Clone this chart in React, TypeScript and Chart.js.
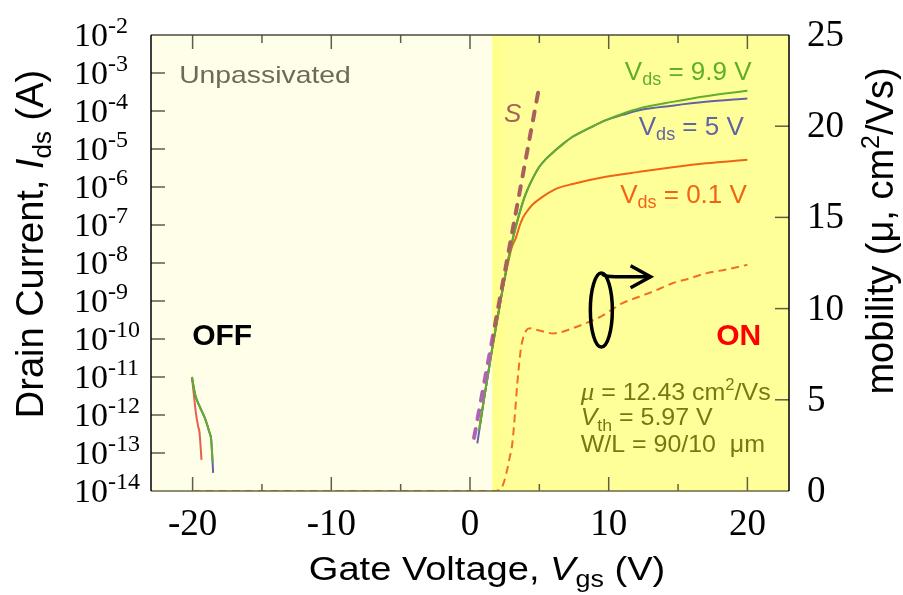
import React, { useEffect, useRef } from 'react';
import { Chart, registerables } from 'chart.js';

Chart.register(...registerables);

// ---------- axes ----------
const X_MIN = -23;
const X_MAX = 23;
const I_MIN = 1e-14;
const I_MAX = 1e-2;
const MU_MIN = 0;
const MU_MAX = 25;
const X_MAJOR_TICKS = [-20, -10, 0, 10, 20];
const X_MINOR_TICKS = [-15, -5, 5, 15];
const I_TICKS = [1e-14, 1e-13, 1e-12, 1e-11, 1e-10, 1e-9, 1e-8, 1e-7, 1e-6, 1e-5, 1e-4, 1e-3, 1e-2];
const MU_TICKS = [0, 5, 10, 15, 20, 25];
const ON_REGION_START = 1.6; // Vgs where the "ON" shading begins

// ---------- Vds = 9.9 V ----------
const VGS_OFF_9V9 = [-20.05, -19.8, -19.5, -19.1, -18.8, -18.66, -18.6, -18.56];
const IDS_OFF_9V9 = [1.0e-11, 3.2e-12, 1.7e-12, 8.0e-13, 3.6e-13, 2.2e-13, 1.0e-13, 5.9e-14];
const VGS_ON_9V9 = [0.65, 1.0, 1.6, 2.2, 2.6, 3.0, 3.3, 3.6, 3.9, 4.2, 4.6, 5.0, 5.5, 6.2, 6.8, 7.4, 8.6, 9.8, 11.0, 12.2, 14.6, 17.0, 20.0];
const IDS_ON_9V9 = [4.0e-13, 2.5e-12, 5.6e-11, 1.0e-9, 6.3e-9, 3.2e-8, 8.9e-8, 2.24e-7, 5.0e-7, 9.5e-7, 1.9e-6, 3.4e-6, 5.6e-6, 9.5e-6, 1.45e-5, 2.1e-5, 3.55e-5, 5.75e-5, 8.5e-5, 1.17e-4, 1.74e-4, 2.45e-4, 3.4e-4];

// ---------- Vds = 5 V ----------
const VGS_OFF_5 = [-20.05, -19.8, -19.5, -19.1, -18.8, -18.66, -18.6, -18.52];
const IDS_OFF_5 = [1.0e-11, 3.3e-12, 1.7e-12, 8.0e-13, 3.6e-13, 2.3e-13, 1.1e-13, 3.0e-14];
const VGS_ON_5 = [0.53, 1.0, 1.6, 2.2, 2.6, 3.0, 3.3, 3.6, 3.9, 4.2, 4.6, 5.0, 5.5, 6.2, 6.8, 7.4, 8.6, 9.8, 11.0, 12.2, 14.6, 17.0, 20.0];
const IDS_ON_5 = [1.8e-13, 2.5e-12, 5.6e-11, 1.0e-9, 6.3e-9, 3.2e-8, 8.9e-8, 2.24e-7, 5.0e-7, 9.5e-7, 1.9e-6, 3.4e-6, 5.6e-6, 9.5e-6, 1.45e-5, 2.1e-5, 3.55e-5, 5.75e-5, 7.9e-5, 1.05e-4, 1.38e-4, 1.74e-4, 2.14e-4];

// ---------- Vds = 0.1 V ----------
const VGS_OFF_0V1 = [-20.05, -19.9, -19.76, -19.6, -19.5, -19.36];
const IDS_OFF_0V1 = [1.0e-11, 3.2e-12, 1.1e-12, 5.0e-13, 3.4e-13, 6.6e-14];
const VGS_ON_0V1 = [0.7, 1.0, 1.6, 2.2, 2.6, 3.0, 3.3, 3.6, 3.8, 4.0, 4.5, 5.2, 6.2, 7.4, 9.8, 12.2, 14.6, 17.0, 20.0];
const IDS_ON_0V1 = [5.0e-13, 2.5e-12, 5.6e-11, 1.0e-9, 5.6e-9, 2.5e-8, 4.5e-8, 1.0e-7, 1.5e-7, 2.0e-7, 3.4e-7, 5.4e-7, 8.9e-7, 1.2e-6, 1.86e-6, 2.5e-6, 3.3e-6, 4.2e-6, 5.2e-6];

// ---------- subthreshold slope guide (S) ----------
const VGS_S = [0.29, 4.97];
const IDS_S = [2.5e-13, 4.0e-4];

// ---------- mobility (right axis) ----------
const VGS_MU = [-20, -10, 0, 1.8, 2.1, 2.3, 2.6, 2.85, 3.05, 3.25, 3.41, 3.55, 3.65, 3.8, 4.0, 4.2, 4.4, 4.85, 5.5, 6.0, 6.6, 7.4, 8.6, 9.4, 10.0, 11.0, 12.2, 13.4, 14.6, 15.8, 17.0, 18.5, 20.0];
const MU_VALUES = [0, 0, 0, 0, 0.05, 0.2, 0.9, 1.8, 2.6, 4.3, 5.9, 7.0, 7.7, 8.3, 8.73, 8.9, 8.92, 8.83, 8.7, 8.64, 8.72, 8.92, 9.28, 9.55, 9.83, 10.3, 10.65, 11.0, 11.39, 11.65, 11.93, 12.15, 12.4];

// ---------- styles ----------
const SANS = '"Liberation Sans", Arial, sans-serif';
const SERIF = '"Liberation Serif", "Times New Roman", serif';
const CREAM = '#FFFEE9';
const YELLOW = '#FFFF99';
const GREEN = '#60AE2C';
const BLUE = '#6262A6';
const ORANGE = '#F06414';
const OFF_RED = '#E8604E';
const MU_COLOR = '#F07020';
const S_COLOR = '#A8605C';
const S_COLOR_OFF = '#B062B6';
const OLIVE = '#777716';
const TICK_COLOR = '#5E5E44';

type Pt = { x: number | null; y: number | null };
function zip(xs: number[], ys: number[]): Pt[] {
  return xs.map((x, i) => ({ x, y: ys[i] }));
}
function branches(ox: number[], oy: number[], nx: number[], ny: number[]): Pt[] {
  return [...zip(ox, oy), { x: null, y: null }, ...zip(nx, ny)];
}

type Run = { t: string; f: string; dy?: number };
function drawRuns(
  ctx: CanvasRenderingContext2D,
  runs: Run[],
  x: number,
  y: number,
  align: 'left' | 'center' | 'right',
  color: string,
  sx = 1,
  rotate = 0
) {
  ctx.save();
  ctx.fillStyle = color;
  ctx.textBaseline = 'alphabetic';
  ctx.textAlign = 'left';
  let w = 0;
  for (const r of runs) {
    ctx.font = r.f;
    w += ctx.measureText(r.t).width;
  }
  ctx.translate(x, y);
  if (rotate) ctx.rotate(rotate);
  ctx.scale(sx, 1);
  let cx = align === 'left' ? 0 : align === 'center' ? -w / 2 : -w;
  for (const r of runs) {
    ctx.font = r.f;
    ctx.fillText(r.t, cx, r.dy || 0);
    cx += ctx.measureText(r.t).width;
  }
  ctx.restore();
}

const backgroundPlugin = {
  id: 'bgRegions',
  beforeDraw(chart: any) {
    const { ctx, chartArea: ca, scales } = chart;
    ctx.save();
    ctx.fillStyle = '#ffffff';
    ctx.fillRect(0, 0, chart.width, chart.height);
    const xb = scales.x.getPixelForValue(ON_REGION_START);
    ctx.fillStyle = CREAM;
    ctx.fillRect(ca.left, ca.top, xb - ca.left, ca.bottom - ca.top);
    const g = ctx.createLinearGradient(xb, 0, xb + 16, 0);
    g.addColorStop(0, '#FFFF8A');
    g.addColorStop(1, YELLOW);
    ctx.fillStyle = g;
    ctx.fillRect(xb, ca.top, ca.right - xb, ca.bottom - ca.top);
    ctx.restore();
  },
};

const decorPlugin = {
  id: 'decor',
  afterDatasetsDraw(chart: any) {
    const { ctx, chartArea: ca, scales } = chart;
    const xs = scales.x;
    const ys = scales.y;
    const ms = scales.mu;
    const X = (v: number) => xs.getPixelForValue(v);
    const M = (v: number) => ms.getPixelForValue(v);
    const line = (x1: number, y1: number, x2: number, y2: number) => {
      ctx.beginPath();
      ctx.moveTo(x1, y1);
      ctx.lineTo(x2, y2);
      ctx.stroke();
    };

    ctx.save();
    // ticks
    ctx.strokeStyle = TICK_COLOR;
    ctx.lineWidth = 1.5;
    for (const v of X_MAJOR_TICKS) {
      const px = X(v);
      line(px, ca.bottom, px, ca.bottom - 14);
      line(px, ca.top, px, ca.top + 14);
    }
    for (const v of X_MINOR_TICKS) {
      const px = X(v);
      line(px, ca.bottom, px, ca.bottom - 7);
      line(px, ca.top, px, ca.top + 8);
    }
    for (const v of I_TICKS) {
      if (v <= I_MIN || v >= I_MAX) continue;
      const py = ys.getPixelForValue(v);
      line(ca.left, py, ca.left + 14, py);
    }
    for (const v of MU_TICKS) {
      if (v <= MU_MIN || v >= MU_MAX) continue;
      const py = M(v);
      line(ca.right, py, ca.right - 14, py);
    }

    // frame
    ctx.lineWidth = 1.5;
    ctx.strokeStyle = '#4a4a3a';
    line(ca.left, ca.top, ca.right, ca.top);
    ctx.strokeStyle = '#6a6a3e';
    line(ca.left, ca.bottom, ca.right, ca.bottom);
    ctx.strokeStyle = '#000000';
    line(ca.left, ca.top, ca.left, ca.bottom);
    line(ca.right, ca.top, ca.right, ca.bottom);

    // left tick labels 10^n
    for (const v of I_TICKS) {
      const py = ys.getPixelForValue(v);
      const e = Math.round(Math.log10(v));
      drawRuns(
        ctx,
        [
          { t: '10', f: `34px ${SERIF}` },
          { t: String(e), f: `24px ${SERIF}`, dy: -13 },
        ],
        74,
        py + 11,
        'left',
        '#000'
      );
    }
    // right tick labels
    for (const v of MU_TICKS) {
      drawRuns(ctx, [{ t: String(v), f: `37px ${SERIF}` }], ca.right + 18, M(v) + 11, 'left', '#000');
    }
    // bottom tick labels
    for (const v of X_MAJOR_TICKS) {
      drawRuns(ctx, [{ t: String(v), f: `37px ${SERIF}` }], X(v), ca.bottom + 44, 'center', '#000');
    }

    // axis titles
    drawRuns(
      ctx,
      [
        { t: 'Gate Voltage, ', f: `34px ${SANS}` },
        { t: 'V', f: `italic 34px ${SANS}` },
        { t: 'gs', f: `24px ${SANS}`, dy: 7 },
        { t: ' (V)', f: `34px ${SANS}` },
      ],
      487,
      ca.bottom + 89,
      'center',
      '#000',
      1.12
    );
    drawRuns(
      ctx,
      [
        { t: 'Drain Current, ', f: `38px ${SANS}` },
        { t: 'I', f: `italic 38px ${SANS}` },
        { t: 'ds', f: `26px ${SANS}`, dy: 8 },
        { t: ' (A)', f: `38px ${SANS}` },
      ],
      43,
      244,
      'center',
      '#000',
      1,
      -Math.PI / 2
    );
    drawRuns(
      ctx,
      [
        { t: 'mobility (\u03bc, cm', f: `38px ${SANS}` },
        { t: '2', f: `25px ${SANS}`, dy: -14 },
        { t: '/Vs)', f: `38px ${SANS}` },
      ],
      893,
      231,
      'center',
      '#000',
      1,
      -Math.PI / 2
    );

    // annotations (anchored in data units: Vgs on x, mobility on right axis)
    drawRuns(ctx, [{ t: 'Unpassivated', f: `24px ${SANS}` }], X(-20.97), M(22.35), 'left', '#6E6A58', 1.18);
    drawRuns(ctx, [{ t: 'OFF', f: `bold 30px ${SANS}` }], X(-20.03), M(8.0), 'left', '#000');
    drawRuns(ctx, [{ t: 'ON', f: `bold 30px ${SANS}` }], X(21.0), M(8.0), 'right', '#FF0000');
    drawRuns(ctx, [{ t: 'S', f: `italic 26px ${SANS}` }], X(2.45), M(20.25), 'left', S_COLOR);

    const vds = (val: string, color: string, xr: number, mu: number) =>
      drawRuns(
        ctx,
        [
          { t: 'V', f: `26px ${SANS}` },
          { t: 'ds', f: `18px ${SANS}`, dy: 5 },
          { t: ` = ${val} V`, f: `26px ${SANS}` },
        ],
        X(xr),
        M(mu),
        'right',
        color
      );
    vds('9.9', GREEN, 20.3, 22.53);
    vds('5', BLUE, 19.74, 19.52);
    vds('0.1', ORANGE, 19.96, 15.77);

    drawRuns(
      ctx,
      [
        { t: '\u03bc', f: `italic 26px ${SERIF}` },
        { t: ' = 12.43 cm', f: `24px ${SANS}` },
        { t: '2', f: `16px ${SANS}`, dy: -10 },
        { t: '/Vs', f: `24px ${SANS}` },
      ],
      X(7.98),
      M(4.99),
      'left',
      OLIVE,
      1.04
    );
    drawRuns(
      ctx,
      [
        { t: 'V', f: `italic 24px ${SANS}` },
        { t: 'th', f: `17px ${SANS}`, dy: 6 },
        { t: ' = 5.97 V', f: `24px ${SANS}` },
      ],
      X(7.98),
      M(3.62),
      'left',
      OLIVE,
      1.04
    );
    drawRuns(
      ctx,
      [
        { t: 'W/L = 90/10  ', f: `24px ${SANS}` },
        { t: '\u03bcm', f: `24px ${SANS}` },
      ],
      X(7.98),
      M(2.15),
      'left',
      OLIVE,
      1.04
    );

    // ellipse + arrow pointing to the mobility axis
    const ecx = X(9.47);
    const ecy = M(9.92);
    ctx.strokeStyle = '#000';
    ctx.lineWidth = 3.5;
    ctx.beginPath();
    ctx.ellipse(ecx, ecy, 11, 37, 0, 0, Math.PI * 2);
    ctx.stroke();
    const tipX = X(13.02);
    const tipY = M(11.75);
    ctx.beginPath();
    ctx.moveTo(ecx + 1, ecy - 36);
    ctx.quadraticCurveTo(ecx + 4, tipY, ecx + 14, tipY);
    ctx.lineTo(tipX, tipY);
    ctx.stroke();
    ctx.beginPath();
    ctx.moveTo(tipX - 20, tipY - 11);
    ctx.lineTo(tipX, tipY);
    ctx.lineTo(tipX - 20, tipY + 11);
    ctx.stroke();

    ctx.restore();
  },
};

export default function App() {
  const ref = useRef<HTMLCanvasElement>(null);
  useEffect(() => {
    if (!ref.current) return;
    const sColor = (c: any) => {
      const ch = c.chart;
      const ca = ch.chartArea;
      if (!ca) return S_COLOR;
      const xb = ch.scales.x.getPixelForValue(ON_REGION_START);
      const f = Math.min(1, Math.max(0, (xb - ca.left) / (ca.right - ca.left)));
      const g = ch.ctx.createLinearGradient(ca.left, 0, ca.right, 0);
      g.addColorStop(0, S_COLOR_OFF);
      g.addColorStop(f, S_COLOR_OFF);
      g.addColorStop(f, S_COLOR);
      g.addColorStop(1, S_COLOR);
      return g;
    };
    // OFF branch (Vgs < 0) of the 0.1 V curve is drawn in a redder tone
    const offRed = (c: any) => {
      const p = c.p0 && c.p0.parsed;
      return p && p.x < 0 ? OFF_RED : undefined;
    };
    const chart = new Chart(ref.current, {
      type: 'line',
      data: {
        datasets: [
          {
            label: 'S',
            data: zip(VGS_S, IDS_S),
            borderColor: sColor,
            borderWidth: 4,
            borderDash: [9, 10],
            borderCapStyle: 'round',
            tension: 0,
            yAxisID: 'y',
            order: 0,
          },
          {
            label: 'Vds = 9.9 V',
            data: branches(VGS_OFF_9V9, IDS_OFF_9V9, VGS_ON_9V9, IDS_ON_9V9),
            borderColor: GREEN,
            borderWidth: 2,
            cubicInterpolationMode: 'monotone',
            yAxisID: 'y',
            order: 1,
          },
          {
            label: 'Vds = 5 V',
            data: branches(VGS_OFF_5, IDS_OFF_5, VGS_ON_5, IDS_ON_5),
            borderColor: BLUE,
            borderWidth: 2,
            cubicInterpolationMode: 'monotone',
            yAxisID: 'y',
            order: 2,
          },
          {
            label: 'Vds = 0.1 V',
            data: branches(VGS_OFF_0V1, IDS_OFF_0V1, VGS_ON_0V1, IDS_ON_0V1),
            borderColor: ORANGE,
            segment: { borderColor: offRed },
            borderWidth: 2,
            cubicInterpolationMode: 'monotone',
            yAxisID: 'y',
            order: 3,
          },
          {
            label: 'mobility',
            data: zip(VGS_MU, MU_VALUES),
            borderColor: MU_COLOR,
            borderWidth: 2,
            borderDash: [8, 5],
            cubicInterpolationMode: 'monotone',
            yAxisID: 'mu',
            order: 4,
          },
        ] as any,
      },
      options: {
        responsive: false,
        animation: false,
        devicePixelRatio: 1,
        events: [],
        layout: { padding: { left: 151, right: 114, top: 35, bottom: 104 }, autoPadding: false } as any,
        elements: { point: { radius: 0, hoverRadius: 0 } },
        plugins: { legend: { display: false }, tooltip: { enabled: false }, title: { display: false } },
        scales: {
          x: { type: 'linear', min: X_MIN, max: X_MAX, display: false },
          y: { type: 'logarithmic', min: I_MIN, max: I_MAX, display: false },
          mu: { type: 'linear', min: MU_MIN, max: MU_MAX, display: false, position: 'right' },
        },
      } as any,
      plugins: [backgroundPlugin, decorPlugin],
    });
    return () => chart.destroy();
  }, []);
  return (
    <div style={{ position: 'absolute', left: 0, top: 0, width: 903, height: 595 }}>
      <canvas ref={ref} width={903} height={595} style={{ width: 903, height: 595, display: 'block' }} />
    </div>
  );
}
